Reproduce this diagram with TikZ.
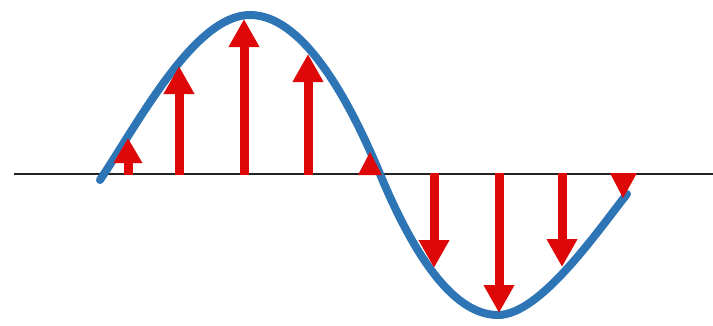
\documentclass[tikz,border=0pt]{standalone}
\usetikzlibrary{arrows.meta}
\definecolor{wblue}{RGB}{46,117,182}
\definecolor{wred}{RGB}{222,8,8}
\definecolor{axisc}{RGB}{35,35,35}
\tikzset{
  vec/.style={draw=wred, line width=9pt, -{Triangle[length=28pt,width=29pt]}},
  smallvec/.style={draw=wred, line width=9pt, -{Triangle[length=25pt,width=27pt]}},
  headonly/.style={fill=wred, draw=none},
  wave/.style={draw=wblue, line width=8pt, line cap=round},
  axisline/.style={draw=axisc, line width=2.5pt}
}
\begin{document}
\begin{tikzpicture}[x=1pt,y=-1pt]
\useasboundingbox (0,0) rectangle (713,325);
% axis
\coordinate (axL) at (14,174);
\coordinate (axR) at (713,174);
\draw[axisline] (axL) -- (axR);
% wave
\coordinate (w0) at (100,180);
\coordinate (w1) at (250,15);
\coordinate (w2) at (380,174);
\coordinate (w3) at (498,315);
\coordinate (w4) at (627,194);
\draw[wave] (w0) .. controls (140,120) and (195,15) .. (w1)
  .. controls (300,15) and (345,90) .. (w2)
  .. controls (410,246) and (450,315) .. (w3)
  .. controls (540,315) and (597,232) .. (w4);
% arrows base and tips
\coordinate (b1) at (128,175); \coordinate (t1) at (128,138);
\coordinate (b2) at (179,175); \coordinate (t2) at (179,66);
\coordinate (b3) at (244,175); \coordinate (t3) at (244,19);
\coordinate (b4) at (308,175); \coordinate (t4) at (308,54);
\coordinate (b6) at (434,173); \coordinate (t6) at (434,268);
\coordinate (b7) at (499,173); \coordinate (t7) at (499,313);
\coordinate (b8) at (562,173); \coordinate (t8) at (562,267);
\draw[smallvec] (b1) -- (t1);
\draw[vec] (b2) -- (t2);
\draw[vec] (b3) -- (t3);
\draw[vec] (b4) -- (t4);
\draw[vec] (b6) -- (t6);
\draw[vec] (b7) -- (t7);
\draw[vec] (b8) -- (t8);
% head-only arrows
\fill[headonly] (358,175) -- (370,152) -- (382,175) -- cycle;
\fill[headonly] (610,173) -- (623,198) -- (637,173) -- cycle;
\end{tikzpicture}
\end{document}
